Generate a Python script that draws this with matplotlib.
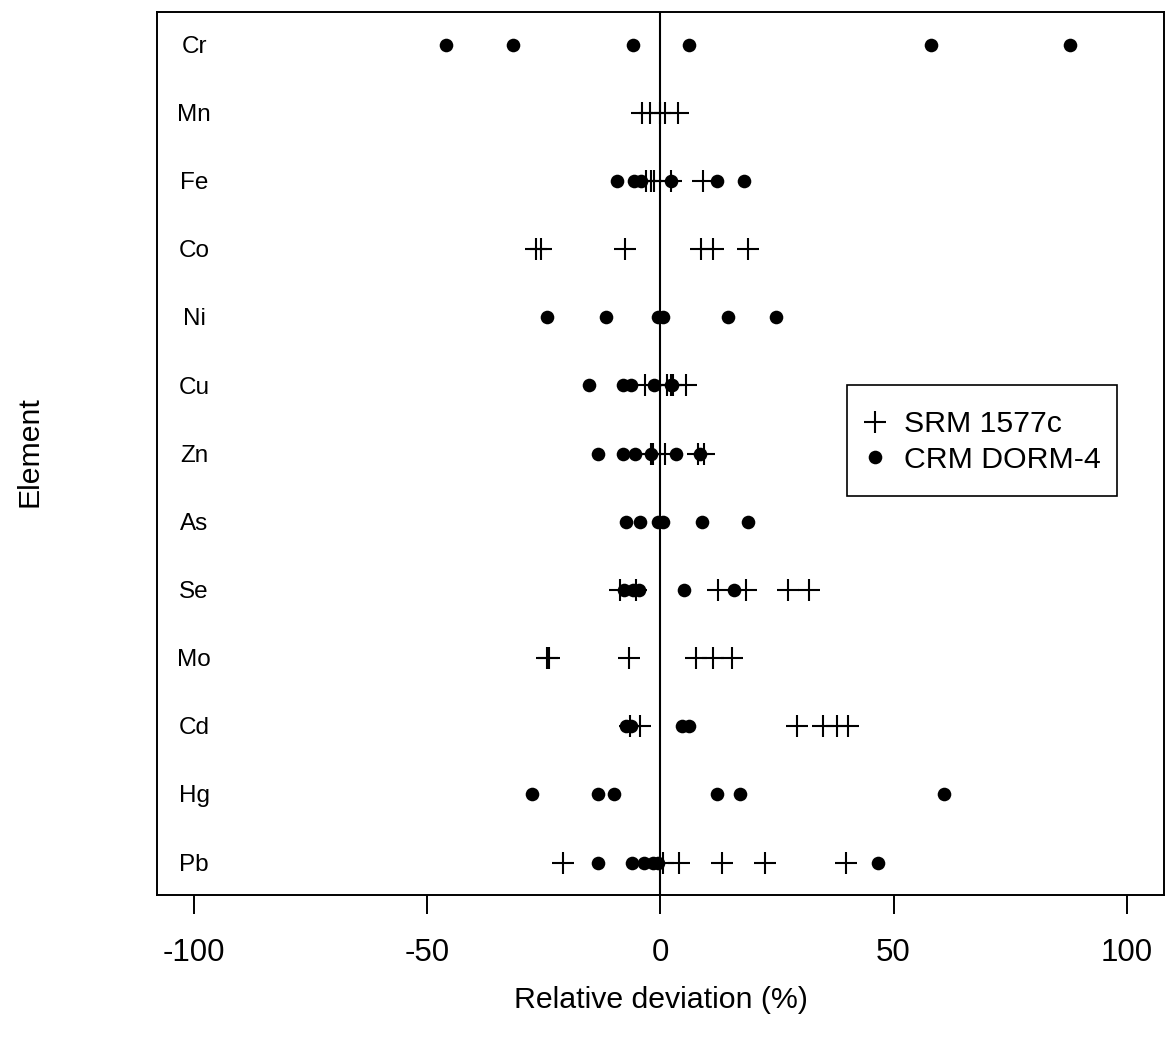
import matplotlib
matplotlib.use("Agg")
import matplotlib.pyplot as plt
from matplotlib.lines import Line2D
from matplotlib.patches import Rectangle

plt.rcParams['font.family'] = ['Liberation Sans', 'DejaVu Sans']

elements = ["Cr", "Mn", "Fe", "Co", "Ni", "Cu", "Zn", "As", "Se", "Mo", "Cd", "Hg", "Pb"]

# SRM 1577c relative deviations (%)
srm_values = {
    "Cr": [],
    "Mn": [-4.0, -2.3, 0.0, 0.9, 3.7],
    "Fe": [-3.1, -2.0, -1.3, 2.3, 9.2],
    "Co": [-26.6, -25.6, -7.5, 8.7, 11.2, 18.9],
    "Ni": [],
    "Cu": [-3.2, 1.5, 2.3, 2.8, 5.6],
    "Zn": [-2.0, -1.6, 1.0, 8.1, 9.4],
    "As": [],
    "Se": [-8.6, -5.2, 12.3, 18.4, 27.3, 31.8],
    "Mo": [-24.2, -23.8, -6.8, 7.7, 11.2, 15.4],
    "Cd": [-6.5, -4.4, 29.4, 34.9, 37.8, 40.3],
    "Hg": [],
    "Pb": [-20.9, 0.5, 4.1, 13.2, 22.5, 39.8],
}

# CRM DORM-4 relative deviations (%)
dorm_values = {
    "Cr": [-45.9, -31.7, -5.8, 6.2, 58.1, 87.9],
    "Mn": [],
    "Fe": [-9.2, -5.6, -4.1, 2.3, 12.1, 18.0],
    "Co": [],
    "Ni": [-24.4, -11.6, -0.6, 0.5, 14.4, 24.7],
    "Cu": [-15.2, -8.1, -6.3, -1.4, 2.3, 2.6],
    "Zn": [-13.3, -8.1, -5.4, -1.9, 3.4, 8.5],
    "As": [-7.4, -4.4, -0.6, 0.5, 8.9, 18.7],
    "Se": [-7.7, -5.9, -4.5, 5.1, 15.9],
    "Mo": [],
    "Cd": [-7.4, -6.3, 4.6, 6.1],
    "Hg": [-27.6, -13.3, -10.0, 12.2, 17.1, 60.9],
    "Pb": [-13.4, -6.1, -3.6, -1.5, -0.6, 46.6],
}

xticks = [-100, -50, 0, 50, 100]

W, H = 1169, 1044
fig = plt.figure(figsize=(W / 100, H / 100), dpi=100)
ax = fig.add_axes([156.7 / W, 1 - 895.3 / H, (1164 - 156.7) / W, (895.3 - 12) / H])

n = len(elements)
for i, el in enumerate(elements):
    y = n - i
    xs = srm_values[el]
    if xs:
        ax.plot(xs, [y] * len(xs), linestyle='none', marker='+', color='black',
                markersize=15.5, markeredgewidth=1.5, zorder=3)
    xd = dorm_values[el]
    if xd:
        ax.plot(xd, [y] * len(xd), linestyle='none', marker='o', color='black',
                markersize=9.8, markeredgewidth=0, zorder=3)
    ax.text(-100, y - 0.03, el, ha='center', va='center', fontsize=17.5)

ax.axvline(0, color='black', linewidth=1.5, zorder=2)

ax.set_xlim(-108, 108)
ax.set_ylim(0.52, n + 0.48)
ax.set_yticks([])
ax.set_xticks(xticks)
ax.set_xticklabels([str(t) for t in xticks])
ax.tick_params(axis='x', length=13.7, width=1.4, pad=17, labelsize=22.5)
for s in ax.spines.values():
    s.set_linewidth(1.4)
    s.set_color('black')

fig.text(660.7 / W, 1 - 1000 / H, "Relative deviation (%)", ha='center', va='center', fontsize=21.8)
fig.text(30 / W, 1 - 452 / H, "Element", ha='center', va='center', rotation=90, fontsize=21.8)

handles = [
    Line2D([], [], linestyle='none', marker='+', color='black', markersize=15.5, markeredgewidth=1.5),
    Line2D([], [], linestyle='none', marker='o', color='black', markersize=9.8, markeredgewidth=0),
]
leg = fig.legend(handles, ["SRM 1577c", "CRM DORM-4"], loc='center left',
                 bbox_to_anchor=(863 / W, 1 - 442 / H),
                 fontsize=21.8, frameon=False,
                 handlelength=0.8, handletextpad=0.57, borderpad=0, labelspacing=0.25,
                 borderaxespad=0)
box = Rectangle((847 / W, 1 - 496 / H), (1117 - 847) / W, (496 - 385) / H,
                transform=fig.transFigure, fill=False, edgecolor='black', linewidth=1.2)
fig.add_artist(box)

fig.savefig("out.png", dpi=100)
